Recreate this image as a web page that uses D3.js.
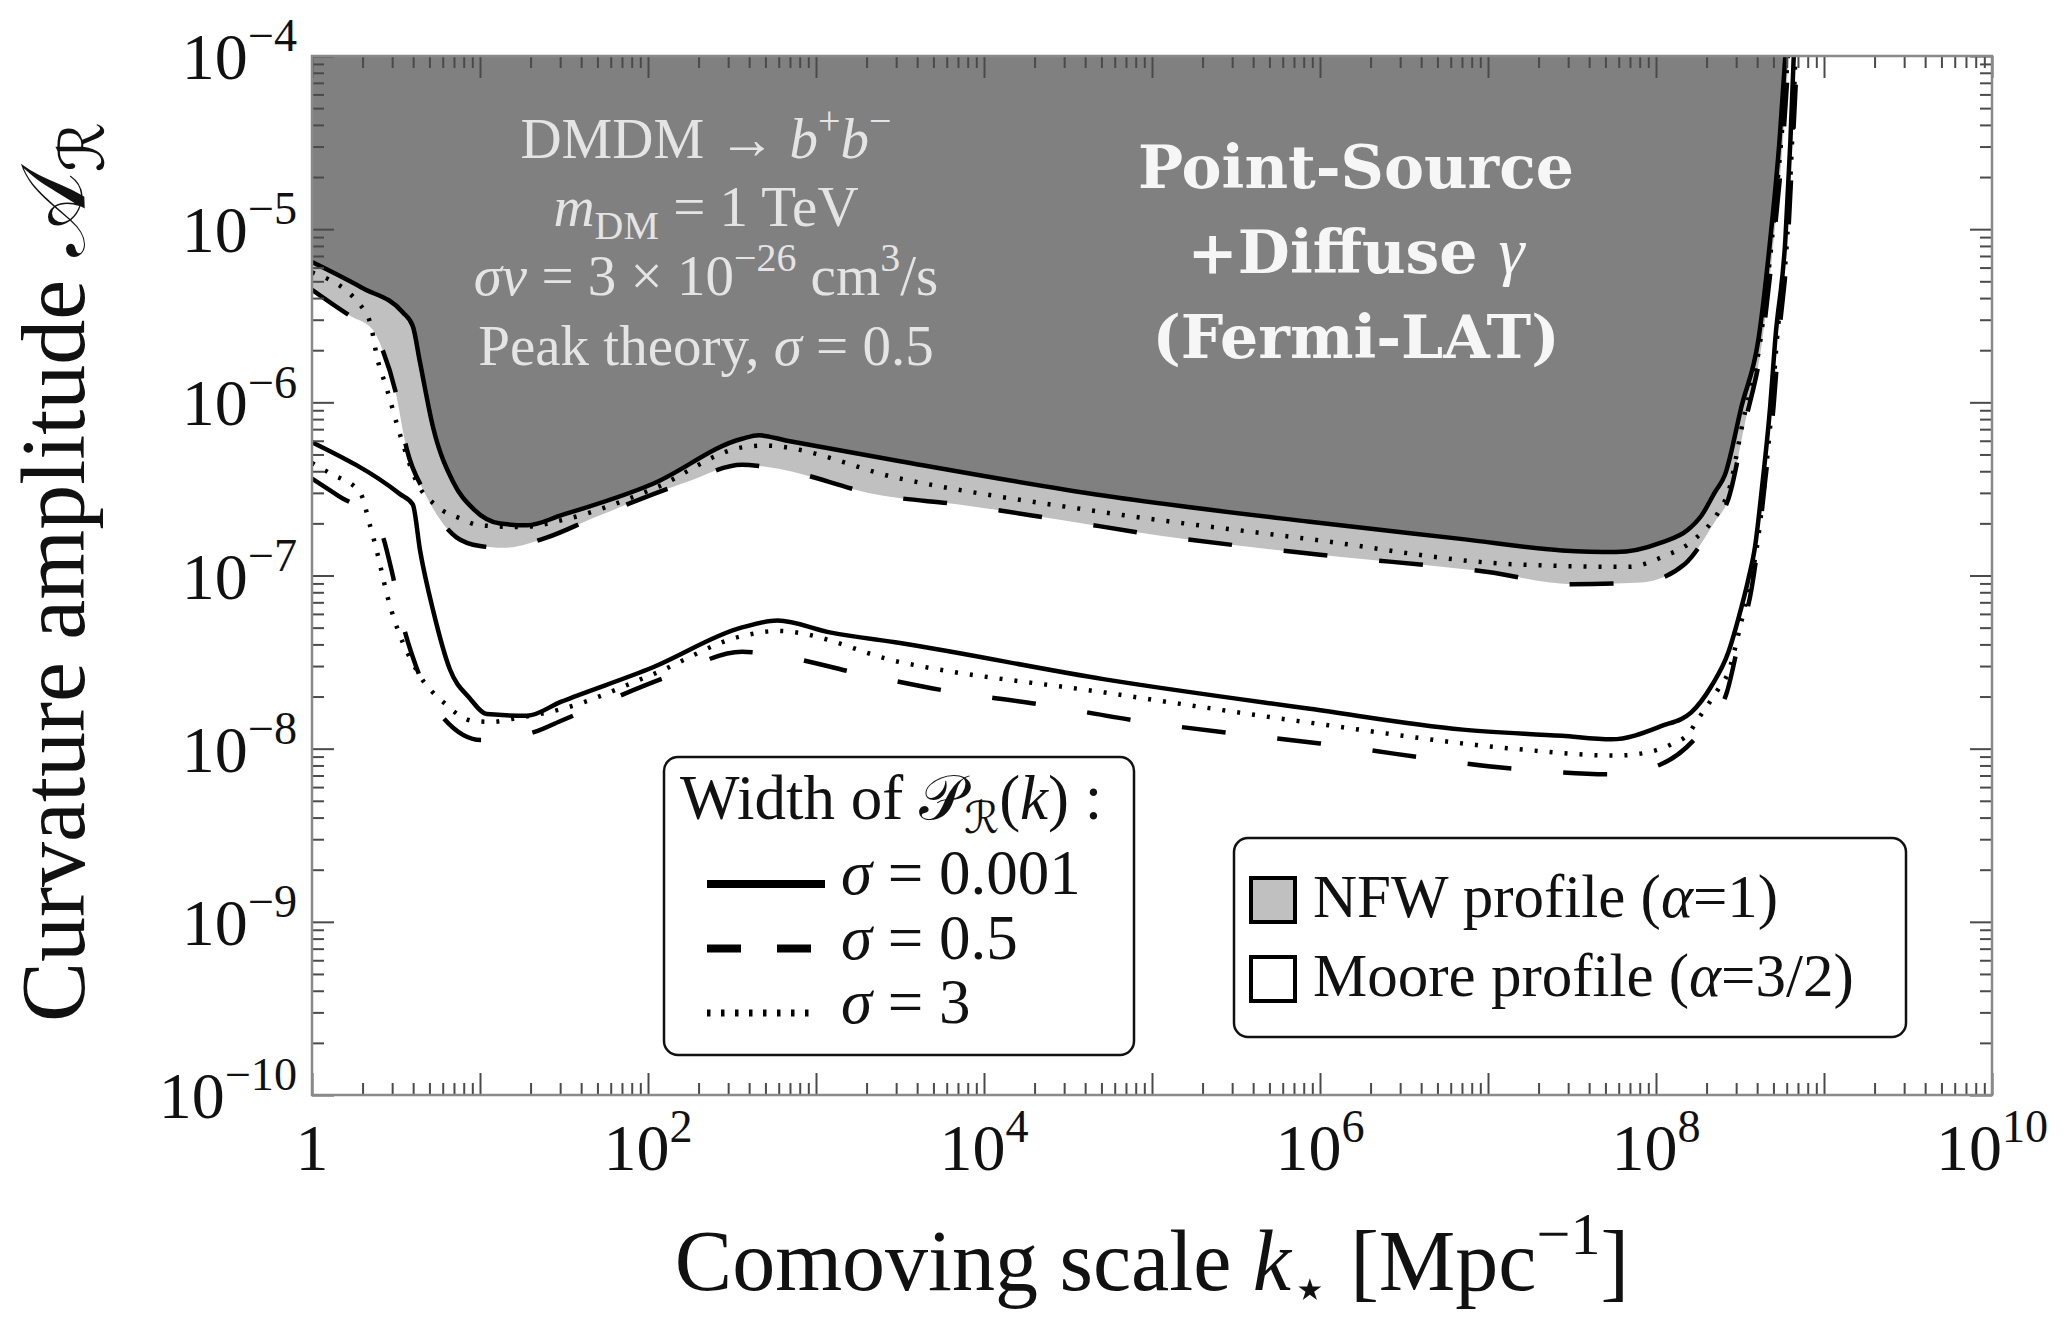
<!DOCTYPE html>
<html>
<head>
<meta charset="utf-8">
<script src="https://cdn.jsdelivr.net/npm/d3@7"></script>
<style>
  body { margin: 0; background: #fff; }
  text { font-family: "Liberation Serif", "DejaVu Serif", "DejaVu Sans", serif; }
</style>
</head>
<body>
<svg id="chart"></svg>
<script>
// ---- data: [log10 k, log10 A] ----

// NFW profile (upper bundle)
let nfw_s0001 = [[0.00,-5.19],[0.30,-5.34],[0.54,-5.48],[0.60,-5.56],[0.643,-5.77],[0.722,-6.15],[0.84,-6.46],[0.96,-6.615],[1.12,-6.70],[1.28,-6.71],[1.49,-6.65],[2.03,-6.47],[2.56,-6.21],[2.66,-6.19],[2.82,-6.22],[3.50,-6.34],[4.72,-6.54],[5.94,-6.69],[6.85,-6.79],[7.44,-6.855],[7.76,-6.865],[8.03,-6.81],[8.19,-6.736],[8.27,-6.655],[8.35,-6.52],[8.41,-6.42],[8.51,-6.02],[8.61,-5.635],[8.68,-5.06],[8.735,-4.49],[8.77,-4.0]];
let nfw_s05 = [[0.00,-5.35],[0.226,-5.50],[0.36,-5.58],[0.425,-5.71],[0.495,-5.93],[0.564,-6.27],[0.67,-6.52],[0.86,-6.78],[1.00,-6.83],[1.14,-6.84],[1.40,-6.78],[1.67,-6.67],[2.23,-6.46],[2.56,-6.36],[2.69,-6.37],[3.40,-6.54],[3.85,-6.59],[4.46,-6.68],[5.05,-6.77],[6.00,-6.88],[7.00,-6.98],[7.50,-7.05],[7.91,-7.04],[8.17,-6.935],[8.35,-6.69],[8.43,-6.56],[8.53,-6.12],[8.63,-5.66],[8.70,-5.07],[8.755,-4.50],[8.79,-4.0]];
let nfw_s3 = [[0.00,-5.25],[0.326,-5.49],[0.356,-5.58],[0.385,-5.73],[0.445,-5.92],[0.525,-6.19],[0.623,-6.46],[0.743,-6.60],[0.88,-6.67],[1.00,-6.71],[1.25,-6.72],[1.49,-6.68],[2.03,-6.50],[2.56,-6.26],[2.69,-6.25],[3.50,-6.44],[4.72,-6.636],[5.94,-6.79],[7.15,-6.935],[7.84,-6.95],[8.03,-6.896],[8.23,-6.79],[8.37,-6.636],[8.43,-6.52],[8.52,-6.10],[8.62,-5.65],[8.69,-5.06],[8.745,-4.49],[8.785,-4.0]];

// Moore profile (lower bundle)
let moore_s0001 = [[0.00,-6.23],[0.524,-6.53],[0.60,-6.59],[0.644,-6.86],[0.723,-7.21],[0.82,-7.54],[0.94,-7.71],[1.04,-7.80],[1.28,-7.81],[1.48,-7.73],[2.03,-7.53],[2.56,-7.30],[2.77,-7.26],[3.09,-7.33],[3.50,-7.39],[4.72,-7.60],[5.94,-7.77],[6.85,-7.89],[7.44,-7.926],[7.735,-7.946],[8.03,-7.87],[8.21,-7.79],[8.33,-7.638],[8.43,-7.445],[8.49,-7.25],[8.55,-7.02],[8.59,-6.83],[8.63,-6.50],[8.68,-6.02],[8.71,-5.635],[8.77,-5.06],[8.80,-4.49],[8.82,-4.0]];
let moore_s05 = [[0.00,-6.44],[0.157,-6.54],[0.39,-6.70],[0.476,-6.98],[0.536,-7.26],[0.625,-7.54],[0.763,-7.80],[1.01,-7.95],[1.32,-7.905],[1.48,-7.84],[2.13,-7.58],[2.56,-7.44],[2.69,-7.45],[3.275,-7.57],[3.80,-7.67],[4.325,-7.743],[4.917,-7.84],[6.00,-7.97],[7.305,-8.128],[7.75,-8.148],[8.03,-8.09],[8.27,-7.90],[8.42,-7.68],[8.50,-7.35],[8.57,-7.07],[8.61,-6.80],[8.65,-6.45],[8.70,-6.02],[8.73,-5.64],[8.785,-5.06],[8.815,-4.49],[8.84,-4.0]];
let moore_s3 = [[0.00,-6.35],[0.107,-6.41],[0.286,-6.52],[0.345,-6.71],[0.385,-6.855],[0.445,-7.105],[0.643,-7.58],[0.78,-7.73],[0.96,-7.84],[1.08,-7.845],[1.18,-7.83],[1.49,-7.77],[2.03,-7.57],[2.56,-7.35],[2.77,-7.32],[3.50,-7.50],[4.72,-7.676],[5.94,-7.85],[7.15,-8.00],[7.76,-8.04],[7.90,-8.03],[8.09,-7.975],[8.19,-7.917],[8.25,-7.83],[8.37,-7.657],[8.43,-7.56],[8.50,-7.30],[8.56,-7.04],[8.60,-6.84],[8.64,-6.52],[8.69,-6.02],[8.72,-5.635],[8.78,-5.06],[8.81,-4.49],[8.83,-4.0]];

// tick labels (exponents of ten)
let x_label_exps = [0, 2, 4, 6, 8, 10];
let y_label_exps = [-4, -5, -6, -7, -8, -9, -10];

// legend texts
let width_labels = ["0.001", "0.5", "3"];
let profile_labels = [["NFW profile (", "α", "=1)"], ["Moore profile (", "α", "=3/2)"]];

// ---- layout ----
let chart_width = 2064;
let chart_height = 1324;
let plot_left = 312, plot_right = 1992, plot_top = 56, plot_bottom = 1095;

let svg = d3.select("#chart")
  .attr("width", chart_width)
  .attr("height", chart_height);

svg.append("rect").attr("width", chart_width).attr("height", chart_height).attr("fill", "#fff");

let x = d3.scaleLog().domain([1, 1e10]).range([plot_left, plot_right]);
let y = d3.scaleLog().domain([1e-10, 1e-4]).range([plot_bottom, plot_top]);

// helper for text with italics / super- and subscripts
// parts: [text, mode] where mode is "", "i" (italic), "sup" or "sub"
function rich(t, parts, base) {
  let shift = 0;
  parts.forEach(function (p) {
    let txt = p[0], mode = p[1] || "";
    let target = 0, size = base;
    if (mode === "sup") { target = -0.42 * base; size = 0.7 * base; }
    if (mode === "sub") { target = 0.22 * base; size = 0.7 * base; }
    let ts = t.append("tspan")
      .attr("dy", target - shift)
      .attr("font-size", size)
      .text(txt);
    if (mode === "i") ts.attr("font-style", "italic");
    shift = target;
  });
  return t;
}

let clip = svg.append("defs").append("clipPath").attr("id", "plot-clip");
clip.append("rect")
  .attr("x", plot_left).attr("y", plot_top)
  .attr("width", plot_right - plot_left).attr("height", plot_bottom - plot_top);

let plot = svg.append("g").attr("clip-path", "url(#plot-clip)");

let px = d => x(Math.pow(10, d[0]));
let py = d => y(Math.pow(10, d[1]));

let line = d3.line().x(px).y(py).curve(d3.curveMonotoneX);

// dark excluded region above the NFW sigma=0.001 curve
let dark_area = d3.area().x(px).y0(y(1e-4)).y1(py).curve(d3.curveMonotoneX);
plot.append("path")
  .attr("d", dark_area(nfw_s0001))
  .attr("fill", "#808080");

// light NFW band between sigma=0.001 and sigma=0.5
let band = line(nfw_s0001) + line(nfw_s05.slice().reverse()).replace(/^M/, "L") + "Z";
plot.append("path")
  .attr("d", band)
  .attr("fill", "#c0c0c0");

// curves
let curves = [
  { data: nfw_s05, dash: "44,52" },
  { data: nfw_s3, dash: "3,12" },
  { data: nfw_s0001, dash: null },
  { data: moore_s05, dash: "44,52" },
  { data: moore_s3, dash: "3,12" },
  { data: moore_s0001, dash: null },
];

plot.selectAll("path.curve")
  .data(curves)
  .enter()
  .append("path")
  .attr("class", "curve")
  .attr("d", d => line(d.data))
  .attr("fill", "none")
  .attr("stroke", "#000")
  .attr("stroke-width", 4.5)
  .attr("stroke-dasharray", d => d.dash);

// ---- ticks on all four sides, pointing inward ----
let major_x = d3.range(0, 11).map(e => Math.pow(10, e));
let minor_x = [];
d3.range(0, 10).forEach(e => d3.range(2, 10).forEach(m => minor_x.push(m * Math.pow(10, e))));
let major_y = d3.range(-10, -3).map(e => Math.pow(10, e));
let minor_y = [];
d3.range(-10, -4).forEach(e => d3.range(2, 10).forEach(m => minor_y.push(m * Math.pow(10, e))));

function tick_axis(axis, vals, size, transform) {
  svg.append("g")
    .attr("transform", transform)
    .call(axis.tickValues(vals).tickSize(-size).tickFormat(() => ""))
    .call(g => g.select(".domain").remove())
    .call(g => g.selectAll("line").attr("stroke", "#4a4a4a").attr("stroke-width", 2));
}

tick_axis(d3.axisBottom(x), minor_x, 12, `translate(0,${plot_bottom})`);
tick_axis(d3.axisBottom(x), major_x, 22, `translate(0,${plot_bottom})`);
tick_axis(d3.axisTop(x), minor_x, 12, `translate(0,${plot_top})`);
tick_axis(d3.axisTop(x), major_x, 22, `translate(0,${plot_top})`);
tick_axis(d3.axisLeft(y), minor_y, 12, `translate(${plot_left},0)`);
tick_axis(d3.axisLeft(y), major_y, 22, `translate(${plot_left},0)`);
tick_axis(d3.axisRight(y), minor_y, 12, `translate(${plot_right},0)`);
tick_axis(d3.axisRight(y), major_y, 22, `translate(${plot_right},0)`);

// frame
svg.append("rect")
  .attr("x", plot_left).attr("y", plot_top)
  .attr("width", plot_right - plot_left).attr("height", plot_bottom - plot_top)
  .attr("fill", "none")
  .attr("stroke", "#8a8a8a")
  .attr("stroke-width", 2.5);

// tick labels
let tick_font = 66;
x_label_exps.forEach(function (e) {
  let t = svg.append("text")
    .attr("x", x(Math.pow(10, e)))
    .attr("y", 1170)
    .attr("text-anchor", "middle")
    .attr("fill", "#111");
  if (e === 0) rich(t, [["1"]], tick_font);
  else rich(t, [["10"], [String(e), "sup"]], tick_font);
});

y_label_exps.forEach(function (e) {
  let t = svg.append("text")
    .attr("x", 297)
    .attr("y", y(Math.pow(10, e)) + 23)
    .attr("text-anchor", "end")
    .attr("fill", "#111");
  rich(t, [["10"], ["\u2212" + Math.abs(e), "sup"]], tick_font);
});

// axis titles
let xt = svg.append("text")
  .attr("x", (plot_left + plot_right) / 2)
  .attr("y", 1290)
  .attr("text-anchor", "middle")
  .attr("fill", "#111");
rich(xt, [["Comoving scale "], ["k", "i"], ["\u22c6", "sub"], [" [Mpc"], ["\u22121", "sup"], ["]"]], 86);

let yt = svg.append("text")
  .attr("transform", "translate(84,572) rotate(-90)")
  .attr("text-anchor", "middle")
  .attr("fill", "#111");
rich(yt, [["Curvature amplitude "], ["\ud835\udc9c"], ["\u211b", "sub"]], 90);

// ---- annotations inside the plot ----
let note_font = 57;
let note_x = 706;
let notes = [
  { yb: 158, parts: [["DMDM \u2192 "], ["b", "i"], ["+", "sup"], ["b", "i"], ["\u2212", "sup"]] },
  { yb: 226, parts: [["m", "i"], ["DM", "sub"], [" = 1 TeV"]] },
  { yb: 295, parts: [["\u03c3v", "i"], [" = 3 \u00d7 10"], ["\u221226", "sup"], [" cm"], ["3", "sup"], ["/s"]] },
  { yb: 365, parts: [["Peak theory, "], ["\u03c3", "i"], [" = 0.5"]] },
];
notes.forEach(function (n) {
  let t = svg.append("text")
    .attr("x", note_x).attr("y", n.yb)
    .attr("text-anchor", "middle")
    .attr("fill", "#e4e4e4");
  rich(t, n.parts, note_font);
});

let bold_lines = [["Point-Source"], ["+Diffuse ", "\u03b3"], ["(Fermi-LAT)"]];
let bold_base = [188, 273, 358];
bold_lines.forEach(function (l, i) {
  let t = svg.append("text")
    .attr("x", 1356).attr("y", bold_base[i])
    .attr("text-anchor", "middle")
    .attr("fill", "#f6f6f6")
    .style("font-family", "'DejaVu Serif', serif")
    .attr("font-weight", "bold")
    .attr("font-size", 60);
  t.append("tspan").text(l[0]);
  if (l[1]) t.append("tspan").attr("font-style", "italic").attr("font-weight", "normal").style("font-family", "'Liberation Serif', serif").attr("font-size", 66).text(l[1]);
});

// ---- legend: width of the power spectrum ----
let leg1 = svg.append("g");
leg1.append("rect")
  .attr("x", 664).attr("y", 757).attr("width", 470).attr("height", 298)
  .attr("rx", 14)
  .attr("fill", "#fff").attr("stroke", "#111").attr("stroke-width", 2.5);
let lt = leg1.append("text").attr("x", 680).attr("y", 819).attr("fill", "#111");
rich(lt, [["Width of "], ["\ud835\udcab"], ["\u211b", "sub"], ["("], ["k", "i"], [") :"]], 63);

let leg_dash = [null, "34,36", "3.5,10.5"];
width_labels.forEach(function (lab, i) {
  let yy = 884 + i * 64.5;
  leg1.append("line")
    .attr("x1", 707).attr("x2", i === 0 ? 825 : 815)
    .attr("y1", yy).attr("y2", yy)
    .attr("stroke", "#000")
    .attr("stroke-width", i === 2 ? 7 : 8)
    .attr("stroke-dasharray", leg_dash[i]);
  let t = leg1.append("text").attr("x", 841).attr("y", yy + 10).attr("fill", "#111");
  rich(t, [["\u03c3", "i"], [" = " + lab]], 63);
});

// ---- legend: halo profile ----
let leg2 = svg.append("g");
leg2.append("rect")
  .attr("x", 1234).attr("y", 838).attr("width", 672).attr("height", 199)
  .attr("rx", 14)
  .attr("fill", "#fff").attr("stroke", "#111").attr("stroke-width", 2.5);
let sq_fill = ["#c0c0c0", "#fff"];
profile_labels.forEach(function (lab, i) {
  let top = 878 + i * 79;
  leg2.append("rect")
    .attr("x", 1251).attr("y", top).attr("width", 44).attr("height", 44)
    .attr("fill", sq_fill[i]).attr("stroke", "#000").attr("stroke-width", 4);
  let t = leg2.append("text").attr("x", 1313).attr("y", top + 39).attr("fill", "#111");
  rich(t, [[lab[0]], [lab[1], "i"], [lab[2]]], 61);
});
</script>
</body>
</html>
